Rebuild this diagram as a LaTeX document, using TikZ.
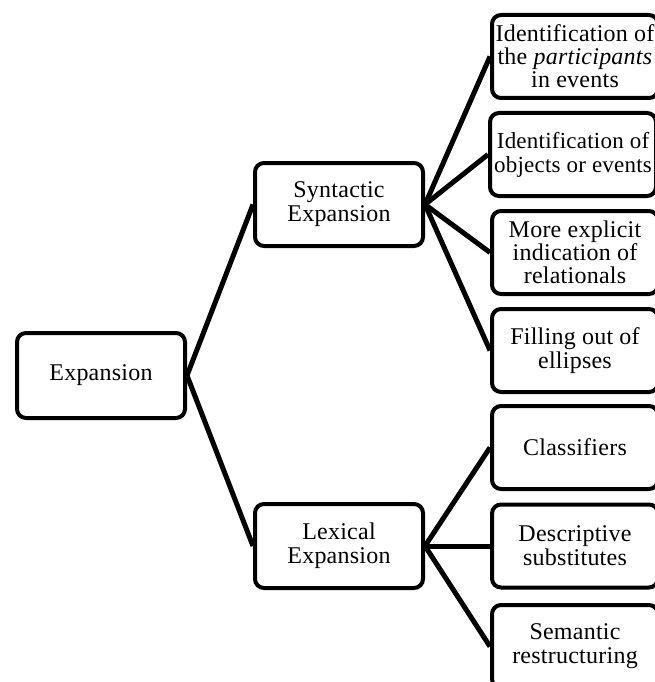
\documentclass[tikz,border=0pt]{standalone}
\usepackage{fontspec}
\setmainfont{Liberation Serif}[LetterSpace=1.0]
\begin{document}
\begin{tikzpicture}[x=1pt,y=-1pt,
  box/.style={draw=black,line width=4pt,rounded corners=9pt,fill=white,
    minimum width=168pt,minimum height=83pt,align=center,inner sep=0pt,
    font=\fontsize{24}{24}\selectfont},
  rbox/.style={box,minimum width=166pt},
  conn/.style={line width=5pt,black}]
\useasboundingbox (0,0) rectangle (655,682);
\clip (0,0) rectangle (655,682);
\fill[white] (0,0) rectangle (655,682);
\node[box,minimum height=85pt] (exp) at (101,375.5) {Expansion};
\node[box] (syn) at (339,204.5) {Syntactic\\Expansion};
\node[box,minimum height=84pt] (lex) at (339,546) {Lexical\\Expansion};
\node[rbox,font=\fontsize{24}{23}\selectfont] (r1) at (575,56.5) {Identification of\\the \textit{participants}\\in events};
\node[rbox,font=\fontsize{23}{24}\selectfont] (r2) at (573,154.5) {Identification of\\objects or events};
\node[rbox,font=\fontsize{24}{23}\selectfont] (r3) at (575,252.5) {More explicit\\indication of\\relationals};
\node[rbox] (r4) at (575,350.5) {Filling out of\\ellipses};
\node[rbox] (r5) at (575,447.5) {Classifiers};
\node[rbox] (r6) at (575,546) {Descriptive\\substitutes};
\node[rbox] (r7) at (575,646.5) {Semantic\\restructuring};
\draw[conn] (exp.east) -- (syn.west);
\draw[conn] (exp.east) -- (lex.west);
\foreach \t in {r1,r2,r3,r4} \draw[conn] (syn.east) -- (\t.west);
\foreach \t in {r5,r6,r7} \draw[conn] (lex.east) -- (\t.west);
\end{tikzpicture}
\end{document}
